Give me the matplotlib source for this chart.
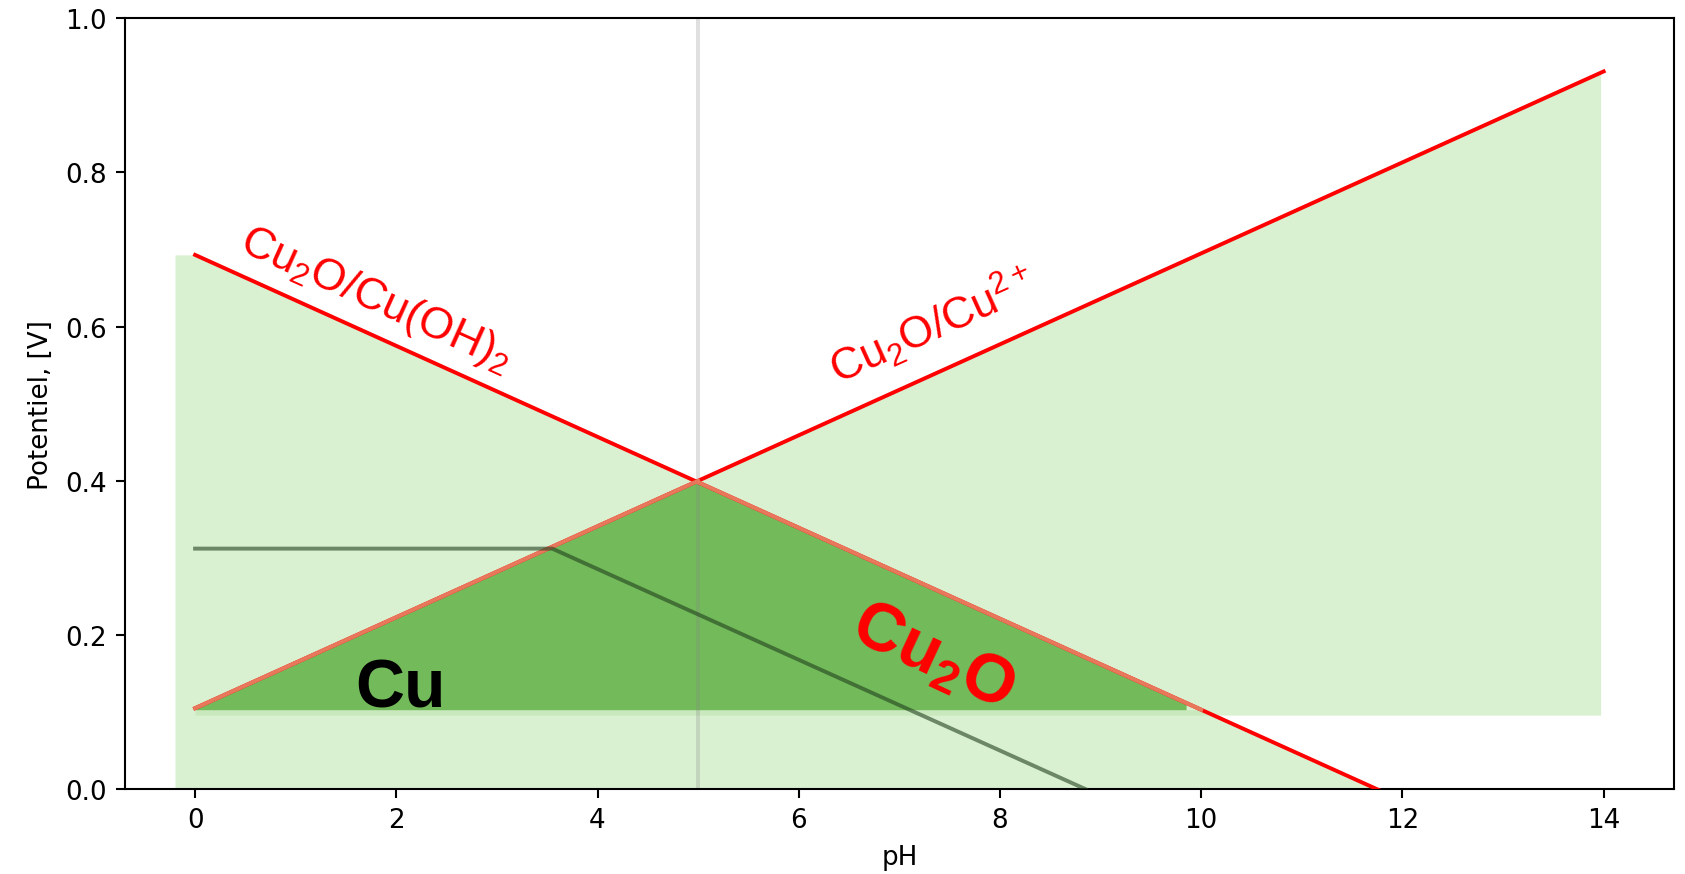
import numpy as np
import matplotlib.pyplot as plt

# potential lines (pH, E in V)
ph_ends = [0, 14]
e_cu2o_cuoh2 = [0.693, -0.133]   # Cu2O/Cu(OH)2
e_cu2o_cu2p = [0.105, 0.931]     # Cu2O/Cu2+
ph_cu = [0, 3.55, 8.85]
e_cu = [0.312, 0.312, 0.0]

# shaded regions
light_left = -0.2
right_edge = 13.97
band_low = 0.096
tri_base = 0.103
tri_gap = 0.15      # triangle stops a bit before the red line
ph_split = 5

light_green = '#d9f1d0'
band_green = '#c9e8bd'
dark_green = '#73bb5a'
red = '#ff0000'
salmon = '#e8785c'


def line1(x):
    return np.interp(x, ph_ends, e_cu2o_cuoh2)


def line2(x):
    return np.interp(x, ph_ends, e_cu2o_cu2p)


fig = plt.figure(figsize=(1685 / 188, 875 / 188), dpi=188)
ax = fig.add_axes([0.074, 0.097, 0.9195, 0.881])

# light green: under Cu2O/Cu(OH)2 down to 0
x = np.linspace(light_left, 14, 400)
top = np.minimum(line1(x), line1(0))
ax.fill_between(x, 0, np.clip(top, 0, None), color=light_green, lw=0, zorder=1)
# light green: under Cu2O/Cu2+ above band_low
xr = np.linspace(ph_split, right_edge, 200)
ax.fill_between(xr, band_low, line2(xr), color=light_green, lw=0, zorder=1)

# thin band under the Cu triangle
x_band_end = np.interp(band_low, e_cu2o_cuoh2[::-1], ph_ends[::-1])
xb = np.linspace(0, x_band_end, 200)
ax.fill_between(xb, band_low, np.minimum(tri_base, line1(xb)), color=band_green, lw=0, zorder=1.2)

# dark triangle (Cu domain)
x_tri_end = np.interp(tri_base, e_cu2o_cuoh2[::-1], ph_ends[::-1]) - tri_gap
xt = np.linspace(0, x_tri_end, 400)
tri_top = np.minimum(line1(xt), line2(xt))
ax.fill_between(xt, tri_base, tri_top, color=dark_green, lw=0, zorder=2)

# vertical guide
ax.axvline(ph_split, color='gray', alpha=0.25, lw=1.5, zorder=2.5)

# red lines
xs = np.array(ph_ends, dtype=float)
ax.plot(xs, line1(xs), color=red, lw=1.5, zorder=3)
ax.plot(xs, line2(xs), color=red, lw=1.5, zorder=3)
# triangle edges look salmon
xe1 = np.array([0, ph_split])
xe2 = np.array([ph_split, x_tri_end + tri_gap])
ax.plot(xe1, line2(xe1), color=salmon, lw=1.5, zorder=3.5)
ax.plot(xe2, line1(xe2), color=salmon, lw=1.5, zorder=3.5)

# Cu/Cu2O line
ax.plot(ph_cu, e_cu, color='#22401f', alpha=0.6, lw=1.5, zorder=4)

lab_font = ['Liberation Sans', 'DejaVu Sans']
ax.text(1.80, 0.636, r'$\mathregular{Cu_2O/Cu(OH)_2}$', color=red, fontsize=17,
        rotation=-24.3, ha='center', va='center', family=lab_font, zorder=5)
ax.text(7.33, 0.603, r'$\mathregular{Cu_2O/Cu^{2+}}$', color=red, fontsize=17,
        rotation=24.3, ha='center', va='center', family=lab_font, zorder=5)
ax.text(2.04, 0.107, 'Cu', color='black', fontsize=26, fontweight='bold',
        ha='center', va='baseline', family=lab_font, zorder=5)
ax.text(7.33, 0.172, r'$\mathregular{Cu_2O}$', color=red, fontsize=26, fontweight='bold',
        rotation=-25, ha='center', va='center', family=lab_font, zorder=5)

ax.set_xlim(-0.7, 14.7)
ax.set_ylim(0, 1.0)
ax.set_xticks(range(0, 15, 2))
ax.set_xlabel('pH')
ax.set_ylabel('Potentiel, [V]')

fig.savefig('out.png', dpi=188)
